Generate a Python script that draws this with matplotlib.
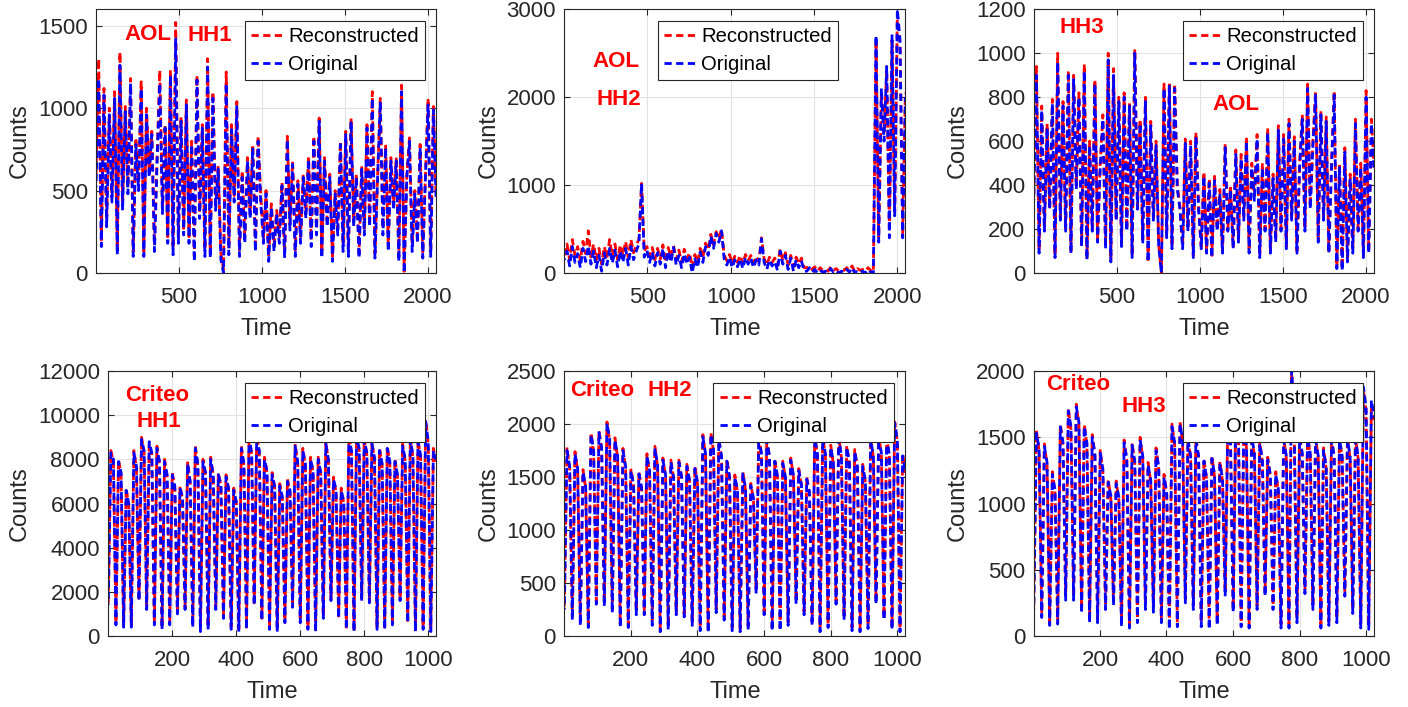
import numpy as np
import matplotlib
matplotlib.use("Agg")
import matplotlib.pyplot as plt

plt.rcParams["font.family"] = ["Liberation Sans", "DejaVu Sans"]

# ---- AOL traces (2048 time bins, sampled every ~16 bins) ----
aol_hh1_recon = [
    600, 1300, 200, 1120, 320, 1000, 480,
    1100, 150, 1340, 420, 1010, 520, 1180,
    130, 820, 540, 1160, 130, 1000, 620,
    860, 170, 720, 1230, 400, 900, 220,
    1230, 150, 1520, 220, 950, 270, 1050,
    220, 800, 100, 1200, 370, 900, 140,
    1300, 120, 1100, 420, 650, 120, 20,
    1220, 150, 900, 470, 1040, 140, 620,
    220, 700, 370, 780, 170, 830, 470,
    220, 500, 100, 420, 170, 380, 220,
    550, 120, 830, 300, 680, 140, 560,
    220, 600, 370, 710, 200, 830, 270,
    940, 120, 700, 320, 600, 100, 500,
    270, 800, 170, 860, 140, 940, 320,
    600, 120, 650, 270, 900, 320, 1100,
    120, 600, 1060, 270, 780, 170, 700,
    420, 700, 100, 1140, 10, 600, 820,
    170, 500, 220, 780, 120, 600, 1060,
    140, 1010, 480]
aol_hh1_orig = [
    520, 1180, 160, 1080, 280, 960, 430,
    1060, 110, 1260, 380, 980, 480, 1150,
    100, 780, 500, 1120, 100, 960, 580,
    840, 130, 680, 1150, 360, 880, 180,
    1200, 110, 1420, 180, 920, 230, 1020,
    180, 780, 70, 1170, 330, 880, 100,
    1250, 90, 1060, 380, 630, 80, 0,
    1150, 110, 870, 430, 1010, 100, 580,
    180, 680, 330, 760, 130, 800, 430,
    180, 480, 70, 400, 130, 360, 180,
    530, 90, 810, 260, 660, 100, 540,
    180, 580, 330, 690, 160, 800, 230,
    920, 90, 680, 280, 580, 70, 480,
    230, 780, 130, 840, 100, 920, 280,
    580, 90, 630, 230, 880, 280, 1060,
    90, 580, 1040, 230, 760, 130, 680,
    380, 680, 70, 1100, 0, 580, 800,
    130, 480, 180, 760, 90, 580, 1020,
    100, 990, 460]

aol_hh2_recon = [
    200, 330, 150, 380, 200, 300, 140,
    360, 220, 480, 180, 330, 150, 280,
    100, 300, 170, 380, 190, 330, 150,
    320, 200, 360, 170, 380, 230, 320,
    380, 1020, 250, 300, 190, 290, 150,
    280, 160, 320, 120, 290, 180, 310,
    150, 260, 120, 270, 160, 230, 60,
    210, 120, 280, 180, 340, 260, 440,
    320, 470, 390, 500, 200, 140, 210,
    110, 190, 120, 200, 100, 210, 140,
    200, 110, 190, 130, 400, 160, 90,
    180, 120, 170, 80, 270, 140, 230,
    90, 200, 70, 180, 100, 170, 60,
    60, 80, 40, 70, 20, 60, 30,
    50, 20, 70, 30, 50, 20, 40,
    30, 60, 30, 80, 20, 50, 30,
    40, 20, 60, 30, 10, 2650, 400,
    2050, 1600, 2300, 500, 2650, 700, 2950,
    2600, 450, 2050]
aol_hh2_orig = [
    150, 250, 80, 300, 120, 220, 60,
    280, 130, 310, 100, 250, 60, 200,
    20, 230, 90, 280, 110, 260, 70,
    250, 120, 280, 90, 300, 150, 250,
    330, 1020, 180, 260, 120, 240, 80,
    230, 100, 280, 60, 250, 120, 290,
    90, 200, 60, 220, 100, 180, 0,
    160, 60, 240, 120, 300, 200, 420,
    280, 450, 350, 480, 160, 90, 180,
    60, 150, 70, 160, 50, 180, 100,
    170, 60, 150, 90, 390, 120, 40,
    150, 80, 130, 30, 250, 100, 200,
    40, 170, 20, 150, 60, 140, 20,
    20, 60, 10, 40, 0, 30, 10,
    20, 0, 50, 10, 30, 0, 20,
    5, 40, 10, 60, 0, 30, 10,
    20, 0, 40, 10, 0, 2700, 350,
    2100, 1500, 2350, 400, 2700, 650, 3000,
    2650, 400, 2000]

aol_hh3_recon = [
    350, 940, 100, 760, 200, 680, 300,
    790, 80, 1000, 250, 780, 200, 920,
    100, 900, 400, 820, 130, 950, 70,
    600, 200, 880, 150, 500, 720, 120,
    1000, 60, 930, 250, 800, 130, 820,
    200, 780, 80, 1020, 300, 700, 150,
    800, 60, 690, 250, 600, 130, 0,
    860, 170, 870, 120, 860, 400, 300,
    120, 610, 200, 600, 80, 640, 300,
    120, 460, 100, 430, 80, 440, 200,
    380, 100, 590, 200, 400, 120, 560,
    150, 540, 250, 620, 100, 500, 350,
    630, 80, 500, 200, 660, 100, 450,
    150, 670, 200, 630, 120, 700, 250,
    620, 100, 500, 720, 200, 860, 300,
    600, 830, 150, 740, 250, 710, 100,
    500, 830, 30, 500, 20, 570, 60,
    450, 100, 700, 200, 500, 80, 830,
    100, 700, 480]
aol_hh3_orig = [
    330, 900, 90, 740, 190, 660, 290,
    770, 70, 960, 240, 760, 190, 900,
    90, 880, 380, 800, 120, 920, 60,
    580, 190, 860, 140, 480, 700, 110,
    970, 50, 900, 240, 780, 120, 800,
    190, 760, 70, 1000, 290, 680, 140,
    780, 50, 670, 240, 580, 120, 0,
    840, 160, 850, 110, 840, 380, 290,
    110, 590, 190, 580, 70, 620, 290,
    110, 440, 90, 410, 70, 420, 190,
    360, 90, 570, 190, 380, 110, 540,
    140, 520, 240, 600, 90, 480, 330,
    610, 70, 480, 190, 640, 90, 430,
    140, 650, 190, 610, 110, 680, 240,
    600, 90, 480, 700, 190, 840, 290,
    580, 810, 140, 720, 240, 690, 90,
    480, 810, 20, 480, 10, 550, 50,
    430, 90, 680, 190, 480, 70, 800,
    90, 680, 460]

# ---- Criteo traces (1024 hourly bins, trough / peak / shoulder per day) ----
criteo_hh1_recon = [
    1500, 8400, 7900, 600, 8000, 7300, 500, 6700, 5900,
    500, 8400, 7600, 1700, 9000, 8300, 1300, 8700, 8200,
    600, 8600, 7800, 400, 8000, 7200, 600, 7400, 6700,
    1100, 6800, 6200, 1300, 7900, 6900, 500, 8600, 7700,
    300, 8000, 7300, 400, 8100, 7200, 1300, 7400, 6800,
    900, 7300, 6600, 400, 6700, 6000, 300, 8600, 7700,
    400, 9100, 8200, 1500, 9100, 8300, 800, 8100, 7400,
    400, 7400, 6700, 300, 6900, 6200, 700, 7100, 6500,
    1400, 8700, 7800, 700, 8500, 7700, 400, 8100, 7400,
    300, 8100, 7300, 900, 8800, 7900, 1700, 7200, 6500,
    900, 6700, 6000, 400, 9100, 8300, 300, 9100, 8400,
    1700, 9000, 8200, 1600, 8800, 8000, 400, 8500, 7700,
    400, 8600, 7800, 600, 8000, 7200, 1700, 8700, 7900,
    700, 9000, 8100, 300, 8900, 8100, 400, 9800, 8700,
    300, 8500, 7900]
criteo_hh1_orig = [
    1400, 8300, 8000, 500, 7900, 7400, 400, 6600, 6000,
    400, 8300, 7700, 1600, 8900, 8400, 1200, 8800, 8300,
    500, 8500, 7900, 300, 7900, 7300, 500, 7300, 6800,
    1000, 6700, 6300, 1200, 7800, 7000, 400, 8500, 7800,
    200, 7900, 7400, 300, 8000, 7300, 1200, 7300, 6900,
    800, 7200, 6700, 300, 6600, 6100, 200, 8500, 7800,
    300, 9000, 8300, 1400, 9000, 8400, 700, 8000, 7500,
    300, 7300, 6800, 200, 6800, 6300, 600, 7000, 6600,
    1300, 8600, 7900, 600, 8400, 7800, 300, 8000, 7500,
    200, 8000, 7400, 800, 8700, 8000, 1600, 7100, 6600,
    800, 6600, 6100, 300, 9000, 8400, 200, 9000, 8500,
    1600, 8900, 8300, 1500, 8700, 8100, 300, 8400, 7800,
    300, 8500, 7900, 500, 7900, 7300, 1600, 8600, 8000,
    600, 8900, 8200, 200, 8800, 8200, 300, 9700, 8800,
    200, 8400, 8000]

criteo_hh2_recon = [
    280, 1780, 1580, 180, 1740, 1560, 130, 1570, 1400,
    110, 1920, 1740, 330, 1940, 1760, 310, 2020, 1840,
    250, 1870, 1680, 110, 1770, 1580, 110, 1580, 1410,
    230, 1550, 1380, 230, 1720, 1540, 130, 1790, 1600,
    70, 1680, 1500, 90, 1660, 1480, 230, 1660, 1490,
    210, 1620, 1450, 130, 1600, 1430, 80, 1900, 1700,
    60, 1920, 1740, 250, 1870, 1680, 180, 1670, 1490,
    80, 1520, 1360, 70, 1550, 1380, 90, 1440, 1280,
    430, 1900, 1700, 230, 1870, 1680, 80, 1670, 1490,
    80, 1650, 1480, 130, 1680, 1500, 330, 1580, 1410,
    230, 1500, 1340, 130, 1890, 1700, 70, 1890, 1700,
    110, 1800, 1620, 330, 1880, 1680, 180, 1800, 1620,
    80, 1760, 1580, 70, 1620, 1450, 100, 1870, 1680,
    330, 1900, 1710, 180, 1880, 1690, 90, 2020, 1830,
    70, 1720, 1540]
criteo_hh2_orig = [
    250, 1750, 1600, 150, 1720, 1580, 100, 1550, 1420,
    80, 1900, 1760, 300, 1920, 1780, 280, 2010, 1860,
    220, 1850, 1700, 80, 1750, 1600, 80, 1560, 1430,
    200, 1530, 1400, 200, 1700, 1560, 100, 1770, 1620,
    40, 1660, 1520, 60, 1640, 1500, 200, 1640, 1510,
    180, 1600, 1470, 100, 1580, 1450, 50, 1880, 1720,
    30, 1900, 1760, 220, 1850, 1700, 150, 1650, 1510,
    50, 1500, 1380, 40, 1530, 1400, 60, 1420, 1300,
    400, 1880, 1720, 200, 1850, 1700, 50, 1650, 1510,
    50, 1630, 1500, 100, 1660, 1520, 300, 1560, 1430,
    200, 1480, 1360, 100, 1870, 1720, 40, 1870, 1720,
    80, 1780, 1640, 300, 1860, 1700, 150, 1780, 1640,
    50, 1740, 1600, 40, 1600, 1470, 70, 1850, 1700,
    300, 1880, 1730, 150, 1860, 1710, 60, 2010, 1850,
    40, 1700, 1560]

criteo_hh3_recon = [
    230, 1550, 1400, 170, 1450, 1290, 110, 1240, 1080,
    120, 1600, 1440, 300, 1720, 1560, 300, 1750, 1590,
    200, 1600, 1440, 130, 1520, 1360, 130, 1400, 1240,
    230, 1180, 1040, 260, 1170, 1030, 100, 1480, 1320,
    90, 1460, 1300, 130, 1500, 1340, 230, 1310, 1160,
    210, 1420, 1260, 130, 1220, 1070, 80, 1600, 1440,
    100, 1620, 1460, 280, 1500, 1340, 230, 1500, 1340,
    100, 1340, 1180, 80, 1360, 1200, 110, 1320, 1170,
    330, 1620, 1460, 210, 1660, 1500, 100, 1580, 1420,
    90, 1520, 1360, 230, 1470, 1310, 330, 1350, 1200,
    230, 1240, 1090, 90, 1500, 1340, 90, 1980, 1480,
    130, 1520, 1360, 350, 1520, 1360, 230, 1500, 1340,
    90, 1420, 1260, 110, 1500, 1340, 130, 1500, 1340,
    330, 1500, 1340, 200, 1500, 1340, 90, 1860, 1700,
    80, 1760, 1630]
criteo_hh3_orig = [
    200, 1530, 1420, 140, 1430, 1310, 80, 1220, 1100,
    90, 1580, 1460, 270, 1700, 1580, 270, 1730, 1610,
    170, 1580, 1460, 100, 1500, 1380, 100, 1380, 1260,
    200, 1160, 1060, 230, 1150, 1050, 70, 1460, 1340,
    60, 1440, 1320, 100, 1480, 1360, 200, 1290, 1180,
    180, 1400, 1280, 100, 1200, 1090, 50, 1580, 1460,
    70, 1600, 1480, 250, 1480, 1360, 200, 1480, 1360,
    70, 1320, 1200, 50, 1340, 1220, 80, 1300, 1190,
    300, 1600, 1480, 180, 1640, 1520, 70, 1560, 1440,
    60, 1500, 1380, 200, 1450, 1330, 300, 1330, 1220,
    200, 1220, 1110, 60, 1480, 1360, 60, 2050, 1500,
    100, 1500, 1380, 320, 1500, 1380, 200, 1480, 1360,
    60, 1400, 1280, 80, 1480, 1360, 100, 1480, 1360,
    300, 1480, 1360, 170, 1480, 1360, 60, 1880, 1720,
    50, 1780, 1650]

aol_xticks = [500, 1000, 1500, 2000]
criteo_xticks = [200, 400, 600, 800, 1000]

# axes rectangles (figure fractions), y range, y ticks, red tags, legend anchor
panels = [
    dict(rect=[0.0682, 0.6139, 0.2415, 0.373], recon=aol_hh1_recon, orig=aol_hh1_orig,
         xmax=2048, xticks=aol_xticks, ymax=1600, yticks=[0, 500, 1000, 1500],
         tags=[("AOL", 0.152, 0.905), ("HH1", 0.336, 0.899)], leg=(0.968, 0.956)),
    dict(rect=[0.4008, 0.6139, 0.2422, 0.373], recon=aol_hh2_recon, orig=aol_hh2_orig,
         xmax=2048, xticks=aol_xticks, ymax=3000, yticks=[0, 1000, 2000, 3000],
         tags=[("AOL", 0.151, 0.801), ("HH2", 0.160, 0.659)], leg=(0.803, 0.956)),
    dict(rect=[0.7342, 0.6139, 0.2417, 0.373], recon=aol_hh3_recon, orig=aol_hh3_orig,
         xmax=2048, xticks=aol_xticks, ymax=1200, yticks=list(range(0, 1201, 200)),
         tags=[("HH3", 0.142, 0.932), ("AOL", 0.595, 0.640)], leg=(0.968, 0.956)),
    dict(rect=[0.0769, 0.1004, 0.2327, 0.3748], recon=criteo_hh1_recon, orig=criteo_hh1_orig,
         xmax=1024, xticks=criteo_xticks, ymax=12000, yticks=list(range(0, 12001, 2000)),
         tags=[("Criteo", 0.148, 0.909), ("HH1", 0.155, 0.809)], leg=(0.967, 0.955)),
    dict(rect=[0.4008, 0.1004, 0.2422, 0.3748], recon=criteo_hh2_recon, orig=criteo_hh2_orig,
         xmax=1024, xticks=criteo_xticks, ymax=2500, yticks=list(range(0, 2501, 500)),
         tags=[("Criteo", 0.111, 0.925), ("HH2", 0.308, 0.927)], leg=(0.966, 0.955)),
    dict(rect=[0.7342, 0.1004, 0.2417, 0.3748], recon=criteo_hh3_recon, orig=criteo_hh3_orig,
         xmax=1024, xticks=criteo_xticks, ymax=2000, yticks=list(range(0, 2001, 500)),
         tags=[("Criteo", 0.132, 0.950), ("HH3", 0.323, 0.868)], leg=(0.967, 0.955)),
]

INK = "#262626"
DASH = (2.6, 1.6)

fig = plt.figure(figsize=(14.08, 7.07), dpi=100)

for p in panels:
    ax = fig.add_axes(p["rect"])
    x = np.linspace(1, p["xmax"], len(p["orig"]))
    ax.plot(x, p["recon"], color="#ff0000", lw=2.0,
            linestyle=(0, DASH), label="Reconstructed")
    # shift the blue dashes so the red trace shows through the gaps
    ax.plot(x, p["orig"], color="#0000ff", lw=2.0,
            linestyle=(2.0, DASH), label="Original")

    ax.set_xlim(1, p["xmax"])
    ax.set_ylim(0, p["ymax"])
    ax.set_xticks(p["xticks"])
    ax.set_yticks(p["yticks"])
    ax.grid(True, color="#e3e3e3", lw=0.8)
    ax.set_axisbelow(True)
    ax.tick_params(direction="in", length=4, width=0.8, top=True, right=True,
                   labelsize=16, colors=INK)
    ax.tick_params(axis="y", pad=6)
    ax.tick_params(axis="x", pad=10)
    for s in ax.spines.values():
        s.set_color(INK)
        s.set_linewidth(0.8)
    ax.set_xlabel("Time", fontsize=17, color=INK, labelpad=7)
    ax.set_ylabel("Counts", fontsize=17, color=INK, labelpad=5)

    for txt, tx, ty in p["tags"]:
        ax.text(tx, ty, txt, transform=ax.transAxes, ha="center", va="center",
                color="#ff0000", fontsize=16, fontweight="bold")

    leg = ax.legend(loc="upper right", bbox_to_anchor=p["leg"], borderaxespad=0,
                    fontsize=14.6, fancybox=False, framealpha=1, edgecolor=INK,
                    handlelength=1.7, handletextpad=0.15, borderpad=0.3,
                    labelspacing=0.45)
    leg.get_frame().set_linewidth(0.8)
    for h in leg.get_lines():
        h.set_linestyle((0, DASH))

fig.savefig("out.png", dpi=100)
